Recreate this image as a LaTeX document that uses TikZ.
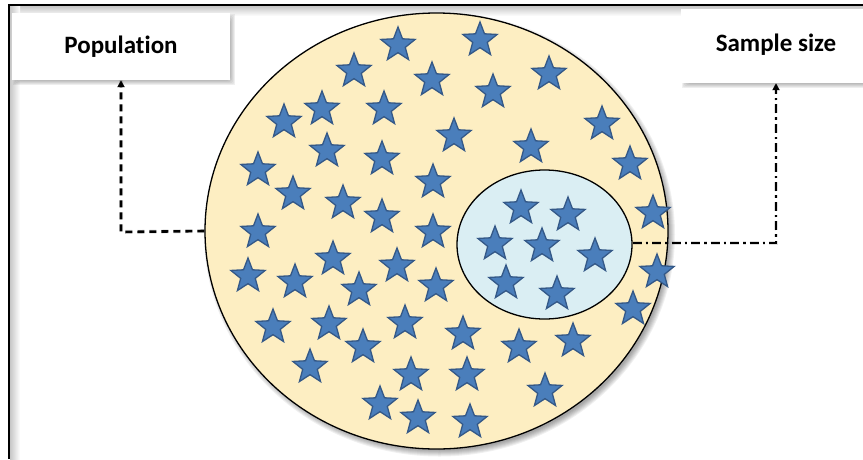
\documentclass[tikz,border=0pt]{standalone}
\usepackage{fontspec}
\setmainfont[Ligatures=NoCommon]{Carlito}
\usetikzlibrary{shapes.geometric,arrows.meta,calc}
\definecolor{popfill}{RGB}{253,238,194}
\definecolor{sampfill}{RGB}{218,238,243}
\definecolor{starfill}{RGB}{74,126,187}
\definecolor{starline}{RGB}{52,88,135}
\tikzset{
  starnode/.style={star, star points=5, star point ratio=2.35, minimum size=36pt, inner sep=0pt,
    fill=starfill, draw=starline, line width=1.3pt},
  labelbox/.style={rectangle, fill=white, inner sep=0pt},
  labeltext/.style={font=\fontsize{25}{30}\selectfont\bfseries},
  conn/.style={line width=2.6pt, -{Triangle[length=7pt,width=7pt]}},
  dashconn/.style={conn, dash pattern=on 7pt off 5pt},
  dotconn/.style={conn, dash pattern=on 9pt off 4pt on 2.5pt off 4pt},
  shadowline/.style={line width=4pt, black, opacity=0.12},
}
\begin{document}
\begin{tikzpicture}[x=1pt, y=-1pt]
\useasboundingbox (0,0) rectangle (863,459);
% frame inner shadow
\shade[top color=black!22, bottom color=white] (10,6) rectangle (863,16);
\shade[left color=black!22, right color=white] (10,6) rectangle (20,459);
% label boxes
\coordinate (popc) at (121,46.5);
\coordinate (sampc) at (776,46);
\foreach \k in {0,...,5}
  \fill[black, opacity=0.06, rounded corners=\k pt]
    ($(popc)+(-109+3+\k-2,-33.5+3+\k-2)$) rectangle ($(popc)+(109+5-\k,33.5+5-\k)$);
\foreach \k in {0,...,5}
  \fill[black, opacity=0.06, rounded corners=\k pt]
    ($(sampc)+(-95+3+\k-2,-37+3+\k-2)$) rectangle ($(sampc)+(95+5-\k,37+5-\k)$);
\node[labelbox, minimum width=218pt, minimum height=67pt] (poplabel) at (popc) {};
\node[labeltext] (poptext) at (popc) {Population};
\node[labelbox, minimum width=190pt, minimum height=74pt] (samplabel) at (sampc) {};
\node[labeltext] (samptext) at (776,45) {Sample size};
% population ellipse shadow
\foreach \k in {0,...,6}
  \fill[black, opacity=0.06] (439.5,234.5) ellipse ({231.5+4-\k} and {218+4-\k});
% ellipses
\node[ellipse, minimum width=463pt, minimum height=436pt, inner sep=0pt, fill=popfill, draw=black, line width=1.3pt] (pop) at (436.5,231) {};
\node[ellipse, minimum width=175pt, minimum height=149pt, inner sep=0pt, fill=sampfill, draw=black, line width=1.3pt] (samp) at (544.5,244.5) {};
% stars in population
\foreach \x/\y [count=\i] in {398/45,480/40,354/71,432/80,493/92,549/74,322/109,384/109,284/122,602/124,
  454/136,531/147,327/151,382/159,258/170,630/164,433/182,293/194,343/203,382/217,258/232,433/232,653/213,
  333/259,397/266,248/276,295/282,359/290,436/286,657/272,273/327,329/324,405/323,463/334,633/309,
  363/347,519/347,573/341,310/367,411/375,467/375,545/391,380/404,418/418,470/422}
  \node[starnode] (p\i) at (\x,\y) {};
% stars in sample
\foreach \x/\y [count=\i] in {521/208,568/215,495/244,542/246,595/256,506/283,557/294}
  \node[starnode] (s\i) at (\x,\y) {};
% connectors
\coordinate (pc) at (121,232);
\coordinate (sc) at (776,243);
\begin{scope}[shift={(2.5,3.5)}]
\draw[shadowline, dash pattern=on 7pt off 5pt] (pop.west) -- (pc) -- (poplabel.south);
\draw[shadowline, dash pattern=on 9pt off 4pt on 2.5pt off 4pt] (samp.east |- sc) -- (sc) -- (samplabel.south);
\end{scope}
\draw[dashconn] (pop.west) -- (pc) -- (poplabel.south);
\draw[dotconn] (samp.east |- sc) -- (sc) -- (samplabel.south);
% frame
\fill[black] (7.8,3.6) rectangle (10.2,459);
\fill[black] (7.8,3.6) rectangle (863,6.2);
\end{tikzpicture}
\end{document}
